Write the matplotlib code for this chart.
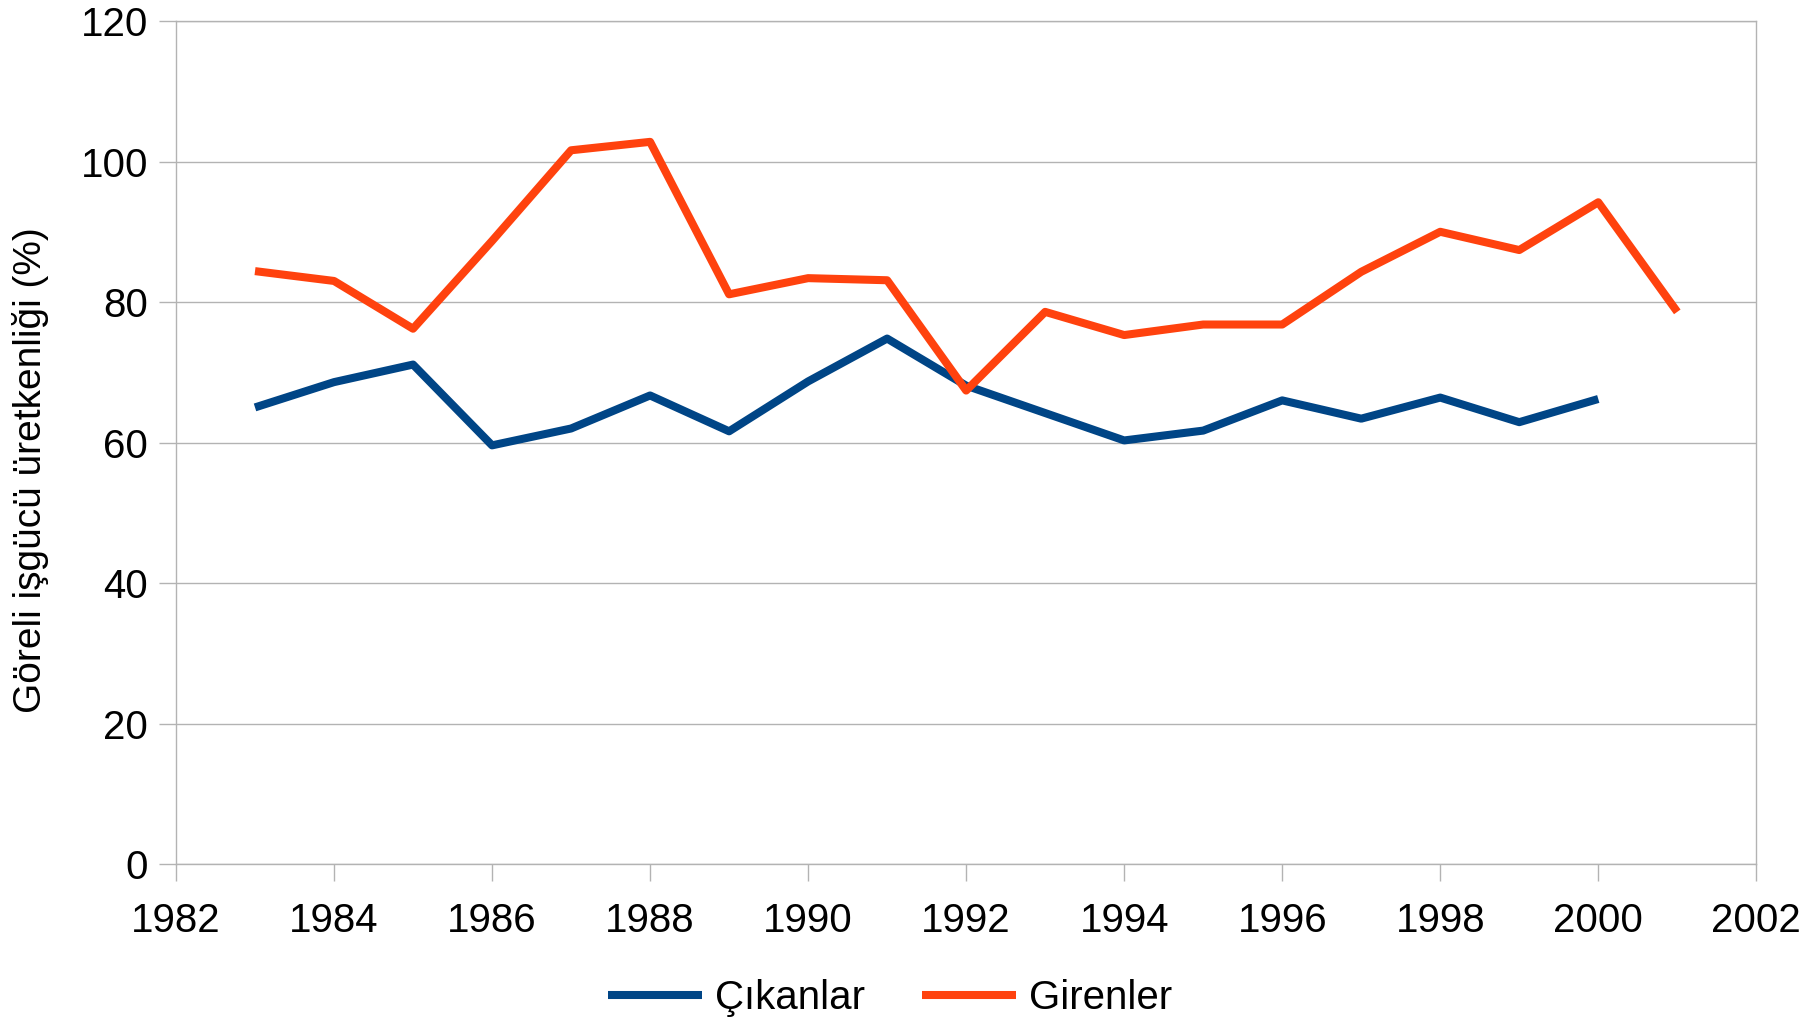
import matplotlib.pyplot as plt

plt.rcParams['font.family'] = ['Liberation Sans', 'DejaVu Sans']

years_out = list(range(1983, 2001))
cikanlar = [65.0, 68.6, 71.1, 59.6, 62.0, 66.7, 61.6, 68.7, 74.8,
            68.1, 64.2, 60.3, 61.7, 66.0, 63.4, 66.4, 62.9, 66.2]

years_in = list(range(1983, 2002))
girenler = [84.4, 83.0, 76.2, 88.7, 101.6, 102.8, 81.1, 83.4, 83.1,
            67.4, 78.6, 75.3, 76.8, 76.8, 84.3, 90.0, 87.4, 94.2, 78.6]

x_ticks = list(range(1982, 2003, 2))
y_ticks = list(range(0, 121, 20))

grey = '#b3b3b3'

fig = plt.figure(figsize=(18.2, 10.25), dpi=100)
ax = fig.add_axes([0.0967, 0.157, 0.8683, 0.8225])

ax.plot(years_out, cikanlar, color='#004586', lw=5.8, label='Çıkanlar',
        solid_capstyle='butt', solid_joinstyle='round')
ax.plot(years_in, girenler, color='#ff420e', lw=5.8, label='Girenler',
        solid_capstyle='butt', solid_joinstyle='round')

ax.set_xlim(1982, 2002)
ax.set_ylim(0, 120)
ax.set_xticks(x_ticks)
ax.set_yticks(y_ticks)
ax.yaxis.grid(True, color=grey, lw=1)
ax.set_axisbelow(True)
for s in ax.spines.values():
    s.set_color(grey)
    s.set_linewidth(1)
ax.tick_params(axis='both', colors=grey, labelcolor='black', labelsize=29,
               length=12, width=1)
ax.tick_params(axis='x', pad=15)
ax.tick_params(axis='y', pad=8)

fig.text(0.017, 0.541, 'Göreli işgücü üretkenliği (%)', rotation=90,
         ha='center', va='center', fontsize=28)

fig.legend(loc='center', bbox_to_anchor=(0.489, 0.026), ncol=2, frameon=False,
           fontsize=29, handlelength=2.35, handletextpad=0.32, columnspacing=1.4)

fig.savefig('out.png', dpi=100)
